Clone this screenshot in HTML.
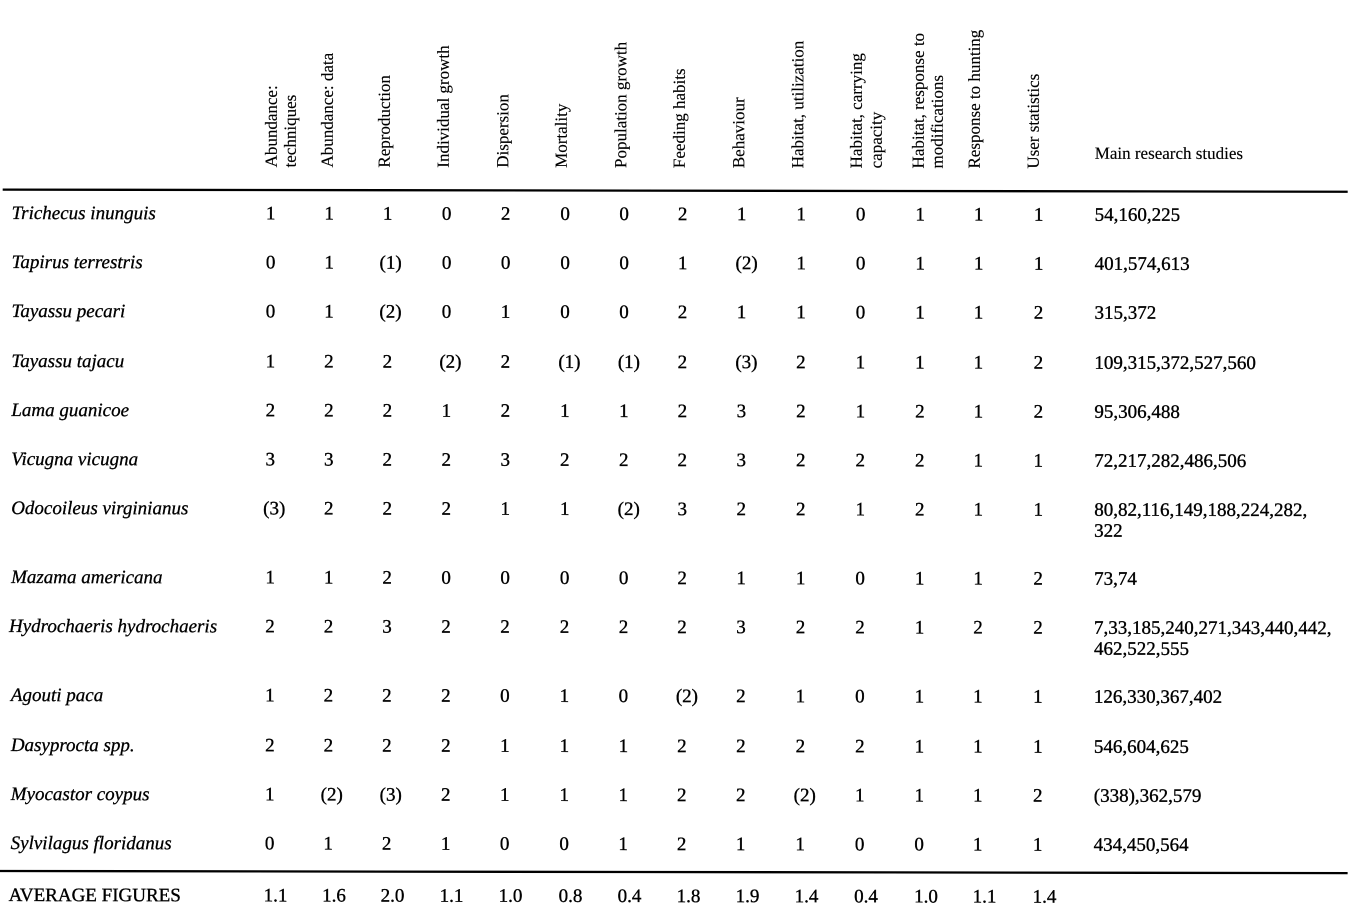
<!DOCTYPE html>
<html>
<head>
<meta charset="utf-8">
<style>
html,body{margin:0;padding:0;background:#fff;}
svg{display:block;}
text{font-family:"Liberation Serif","Times New Roman",serif;fill:#000;}
.h{font-size:17px;stroke:#000;stroke-width:0.15;}
.b{font-size:19px;stroke:#000;stroke-width:0.35;}
.i{font-size:19px;font-style:italic;stroke:#000;stroke-width:0.3;}
</style>
</head>
<body>
<svg width="1349" height="913" viewBox="0 0 1349 913" xmlns="http://www.w3.org/2000/svg">
<rect width="1349" height="913" fill="#fff"/>
<g transform="rotate(0.09)">
<!-- Headers -->
<g class="h">
<text class="h" transform="translate(277,167) rotate(-90)">Abundance:</text>
<text class="h" transform="translate(296,167) rotate(-90)">techniques</text>
<text class="h" transform="translate(333,167) rotate(-90)">Abundance: data</text>
<text class="h" transform="translate(390,167) rotate(-90)">Reproduction</text>
<text class="h" transform="translate(449,167) rotate(-90)">Individual growth</text>
<text class="h" transform="translate(508.5,167) rotate(-90)">Dispersion</text>
<text class="h" transform="translate(567,167) rotate(-90)">Mortality</text>
<text class="h" transform="translate(626.5,167) rotate(-90)">Population growth</text>
<text class="h" transform="translate(685,167) rotate(-90)">Feeding habits</text>
<text class="h" transform="translate(744.5,167) rotate(-90)">Behaviour</text>
<text class="h" transform="translate(803.5,167) rotate(-90)">Habitat, utilization</text>
<text class="h" transform="translate(862,167) rotate(-90)">Habitat, carrying</text>
<text class="h" transform="translate(882,167) rotate(-90)">capacity</text>
<text class="h" transform="translate(924,167) rotate(-90)">Habitat, response to</text>
<text class="h" transform="translate(943,167) rotate(-90)">modifications</text>
<text class="h" transform="translate(980,167) rotate(-90)">Response to hunting</text>
<text class="h" transform="translate(1039,167) rotate(-90)">User statistics</text>
<text class="h" x="1095" y="157">Main research studies</text>
</g>
<!-- Rules -->
<line x1="3" y1="189.6" x2="1348" y2="189.6" stroke="#000" stroke-width="2.3"/>
<line x1="0" y1="871" x2="1349" y2="871" stroke="#000" stroke-width="2.3"/>

<!-- Species names -->
<text class="i" x="12" y="219">Trichecus inunguis</text>
<text class="i" x="12" y="268">Tapirus terrestris</text>
<text class="i" x="12" y="317">Tayassu pecari</text>
<text class="i" x="12" y="367">Tayassu tajacu</text>
<text class="i" x="12" y="416">Lama guanicoe</text>
<text class="i" x="12" y="465">Vicugna vicugna</text>
<text class="i" x="12" y="514">Odocoileus virginianus</text>
<text class="i" x="12" y="583">Mazama americana</text>
<text class="i" x="10" y="632">Hydrochaeris hydrochaeris</text>
<text class="i" x="12" y="701">Agouti paca</text>
<text class="i" x="12" y="751">Dasyprocta spp.</text>
<text class="i" x="12" y="800">Myocastor coypus</text>
<text class="i" x="12" y="849">Sylvilagus floridanus</text>
<text class="b" x="10" y="901">AVERAGE FIGURES</text>

<!-- References -->
<text class="b" x="1095" y="219">54,160,225</text>
<text class="b" x="1095" y="268">401,574,613</text>
<text class="b" x="1095" y="317">315,372</text>
<text class="b" x="1095" y="367">109,315,372,527,560</text>
<text class="b" x="1095" y="416">95,306,488</text>
<text class="b" x="1095" y="465">72,217,282,486,506</text>
<text class="b" x="1095" y="514">80,82,116,149,188,224,282,</text>
<text class="b" x="1095" y="535">322</text>
<text class="b" x="1095" y="583">73,74</text>
<text class="b" x="1095" y="632">7,33,185,240,271,343,440,442,</text>
<text class="b" x="1095" y="653">462,522,555</text>
<text class="b" x="1095" y="701">126,330,367,402</text>
<text class="b" x="1095" y="751">546,604,625</text>
<text class="b" x="1095" y="800">(338),362,579</text>
<text class="b" x="1095" y="849">434,450,564</text>

<g class="b" text-anchor="middle">
<!-- Row 1 Trichecus -->
<text x="271" y="219">1</text><text x="329.5" y="219">1</text><text x="388" y="219">1</text><text x="447" y="219">0</text><text x="506" y="219">2</text><text x="565.5" y="219">0</text><text x="624.5" y="219">0</text><text x="683" y="219">2</text><text x="742" y="219">1</text><text x="801.5" y="219">1</text><text x="861" y="219">0</text><text x="920.5" y="219">1</text><text x="979" y="219">1</text><text x="1039" y="219">1</text>
<!-- Row 2 Tapirus -->
<text x="271" y="268">0</text><text x="329.5" y="268">1</text><text x="391" y="268">(1)</text><text x="447" y="268">0</text><text x="506" y="268">0</text><text x="565.5" y="268">0</text><text x="624.5" y="268">0</text><text x="683" y="268">1</text><text x="747" y="268">(2)</text><text x="801.5" y="268">1</text><text x="861" y="268">0</text><text x="920.5" y="268">1</text><text x="979" y="268">1</text><text x="1039" y="268">1</text>
<!-- Row 3 pecari -->
<text x="271" y="317">0</text><text x="329.5" y="317">1</text><text x="391" y="317">(2)</text><text x="447" y="317">0</text><text x="506" y="317">1</text><text x="565.5" y="317">0</text><text x="624.5" y="317">0</text><text x="683" y="317">2</text><text x="742" y="317">1</text><text x="801.5" y="317">1</text><text x="861" y="317">0</text><text x="920.5" y="317">1</text><text x="979" y="317">1</text><text x="1039" y="317">2</text>
<!-- Row 4 tajacu -->
<text x="271" y="367">1</text><text x="329.5" y="367">2</text><text x="388" y="367">2</text><text x="451" y="367">(2)</text><text x="506" y="367">2</text><text x="570" y="367">(1)</text><text x="629.5" y="367">(1)</text><text x="683" y="367">2</text><text x="747" y="367">(3)</text><text x="801.5" y="367">2</text><text x="861" y="367">1</text><text x="920.5" y="367">1</text><text x="979" y="367">1</text><text x="1039" y="367">2</text>
<!-- Row 5 Lama -->
<text x="271" y="416">2</text><text x="329.5" y="416">2</text><text x="388" y="416">2</text><text x="447" y="416">1</text><text x="506" y="416">2</text><text x="565.5" y="416">1</text><text x="624.5" y="416">1</text><text x="683" y="416">2</text><text x="742" y="416">3</text><text x="801.5" y="416">2</text><text x="861" y="416">1</text><text x="920.5" y="416">2</text><text x="979" y="416">1</text><text x="1039" y="416">2</text>
<!-- Row 6 Vicugna -->
<text x="271" y="465">3</text><text x="329.5" y="465">3</text><text x="388" y="465">2</text><text x="447" y="465">2</text><text x="506" y="465">3</text><text x="565.5" y="465">2</text><text x="624.5" y="465">2</text><text x="683" y="465">2</text><text x="742" y="465">3</text><text x="801.5" y="465">2</text><text x="861" y="465">2</text><text x="920.5" y="465">2</text><text x="979" y="465">1</text><text x="1039" y="465">1</text>
<!-- Row 7 Odocoileus -->
<text x="275" y="514">(3)</text><text x="329.5" y="514">2</text><text x="388" y="514">2</text><text x="447" y="514">2</text><text x="506" y="514">1</text><text x="565.5" y="514">1</text><text x="629.5" y="514">(2)</text><text x="683" y="514">3</text><text x="742" y="514">2</text><text x="801.5" y="514">2</text><text x="861" y="514">1</text><text x="920.5" y="514">2</text><text x="979" y="514">1</text><text x="1039" y="514">1</text>
<!-- Row 8 Mazama -->
<text x="271" y="583">1</text><text x="329.5" y="583">1</text><text x="388" y="583">2</text><text x="447" y="583">0</text><text x="506" y="583">0</text><text x="565.5" y="583">0</text><text x="624.5" y="583">0</text><text x="683" y="583">2</text><text x="742" y="583">1</text><text x="801.5" y="583">1</text><text x="861" y="583">0</text><text x="920.5" y="583">1</text><text x="979" y="583">1</text><text x="1039" y="583">2</text>
<!-- Row 9 Hydrochaeris -->
<text x="271" y="632">2</text><text x="329.5" y="632">2</text><text x="388" y="632">3</text><text x="447" y="632">2</text><text x="506" y="632">2</text><text x="565.5" y="632">2</text><text x="624.5" y="632">2</text><text x="683" y="632">2</text><text x="742" y="632">3</text><text x="801.5" y="632">2</text><text x="861" y="632">2</text><text x="920.5" y="632">1</text><text x="979" y="632">2</text><text x="1039" y="632">2</text>
<!-- Row 10 Agouti -->
<text x="271" y="701">1</text><text x="329.5" y="701">2</text><text x="388" y="701">2</text><text x="447" y="701">2</text><text x="506" y="701">0</text><text x="565.5" y="701">1</text><text x="624.5" y="701">0</text><text x="688" y="701">(2)</text><text x="742" y="701">2</text><text x="801.5" y="701">1</text><text x="861" y="701">0</text><text x="920.5" y="701">1</text><text x="979" y="701">1</text><text x="1039" y="701">1</text>
<!-- Row 11 Dasyprocta -->
<text x="271" y="751">2</text><text x="329.5" y="751">2</text><text x="388" y="751">2</text><text x="447" y="751">2</text><text x="506" y="751">1</text><text x="565.5" y="751">1</text><text x="624.5" y="751">1</text><text x="683" y="751">2</text><text x="742" y="751">2</text><text x="801.5" y="751">2</text><text x="861" y="751">2</text><text x="920.5" y="751">1</text><text x="979" y="751">1</text><text x="1039" y="751">1</text>
<!-- Row 12 Myocastor -->
<text x="271" y="800">1</text><text x="333" y="800">(2)</text><text x="392" y="800">(3)</text><text x="447" y="800">2</text><text x="506" y="800">1</text><text x="565.5" y="800">1</text><text x="624.5" y="800">1</text><text x="683" y="800">2</text><text x="742" y="800">2</text><text x="806" y="800">(2)</text><text x="861" y="800">1</text><text x="920.5" y="800">1</text><text x="979" y="800">1</text><text x="1039" y="800">2</text>
<!-- Row 13 Sylvilagus -->
<text x="271" y="849">0</text><text x="329.5" y="849">1</text><text x="388" y="849">2</text><text x="447" y="849">1</text><text x="506" y="849">0</text><text x="565.5" y="849">0</text><text x="624.5" y="849">1</text><text x="683" y="849">2</text><text x="742" y="849">1</text><text x="801.5" y="849">1</text><text x="861" y="849">0</text><text x="920.5" y="849">0</text><text x="979" y="849">1</text><text x="1039" y="849">1</text>
</g>
<!-- Averages -->
<g class="b" text-anchor="start">
<text x="265" y="901">1.1</text><text x="323.5" y="901">1.6</text><text x="382" y="901">2.0</text><text x="441" y="901">1.1</text><text x="500" y="901">1.0</text><text x="560" y="901">0.8</text><text x="619" y="901">0.4</text><text x="678" y="901">1.8</text><text x="737" y="901">1.9</text><text x="796" y="901">1.4</text><text x="855.5" y="901">0.4</text><text x="915.5" y="901">1.0</text><text x="974" y="901">1.1</text><text x="1034" y="901">1.4</text>
</g>
</g>
</svg>
</body>
</html>
